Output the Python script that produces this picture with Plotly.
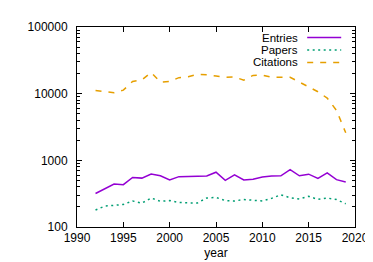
import plotly.graph_objects as go

years = list(range(1992, 2020))
entries = [318, 374, 442, 432, 553, 541, 622, 588, 507, 569, 576, 569, 582, 664,
           502, 607, 507, 519, 561, 580, 586, 724, 586, 620, 536, 648, 513, 474]
papers = [180, 206, 211, 218, 246, 228, 272, 243, 249, 233, 230, 230, 272, 278,
          249, 246, 258, 253, 246, 269, 304, 275, 263, 288, 260, 272, 258, 223]
citations = [11170, 10700, 10330, 11300, 15240, 16100, 20760, 14900, 15200, 17400,
             18000, 19400, 19200, 18400, 17600, 17800, 15900, 18800, 19000, 17600,
             17800, 17600, 14900, 12500, 10700, 8570, 5620, 2590]

series_names = ["Entries", "Papers", "Citations"]
series_colors = ["#9400d3", "#009e73", "#e69f00"]
series_dash = ["solid", "2px,3.5px", "6px,7px"]
series_values = [entries, papers, citations]

x_ticks = [1990, 1995, 2000, 2005, 2010, 2015, 2020]
y_ticks = [100, 1000, 10000, 100000]
y_minor = [m * 10 ** k for k in (2, 3, 4) for m in range(2, 10)]

FONT = "Liberation Sans, Arial, sans-serif"

fig = go.Figure()
for name, vals, col, dash in zip(series_names, series_values, series_colors, series_dash):
    fig.add_trace(go.Scatter(x=years, y=vals, mode="lines", name=name,
                             line=dict(color=col, width=1.5, dash=dash),
                             showlegend=False))

# gnuplot-style key: right-aligned text, sample on the right
W, H = 373, 262
L, R, T, B = 69, 22, 13, 40
pw, ph = W - L - R, H - T - B
rows_y = [24.0, 37.0, 50.0]
for name, col, dash, yy in zip(series_names, series_colors, series_dash, rows_y):
    py = (H - B - yy) / ph
    fig.add_shape(type="line", xref="paper", yref="paper",
                  x0=(302.5 - L) / pw, x1=(337 - L) / pw, y0=py, y1=py,
                  line=dict(color=col, width=1.5, dash=dash))
    fig.add_annotation(x=(294.5 - L) / pw, y=py, xref="paper", yref="paper",
                       text=name, showarrow=False, xanchor="right", yanchor="middle",
                       borderpad=0,
                       font=dict(family=FONT, size=11.5, color="black"))

fig.update_layout(
    width=W, height=H,
    margin=dict(l=L, r=R, t=T, b=B, pad=0),
    paper_bgcolor="white", plot_bgcolor="white",
    font=dict(family=FONT, size=12, color="black"),
)
fig.update_xaxes(range=[1990, 2020], tickmode="array", tickvals=x_ticks,
                 ticktext=[str(v) for v in x_ticks],
                 ticks="inside", ticklen=5, tickcolor="black",
                 showline=True, linecolor="black", linewidth=1, mirror="ticks",
                 showgrid=False, zeroline=False,
                 title=dict(text="year", standoff=4, font=dict(size=12)))
fig.update_yaxes(type="log", range=[2, 5], tickmode="array", tickvals=y_ticks,
                 ticktext=[str(v) for v in y_ticks],
                 ticks="inside", ticklen=5, tickcolor="black",
                 minor=dict(tickmode="array", tickvals=y_minor, ticks="inside",
                            ticklen=3, tickcolor="black", showgrid=False),
                 showline=True, linecolor="black", linewidth=1, mirror="ticks",
                 showgrid=False, zeroline=False, ticklabelstandoff=6)

fig.write_html("out.html")
